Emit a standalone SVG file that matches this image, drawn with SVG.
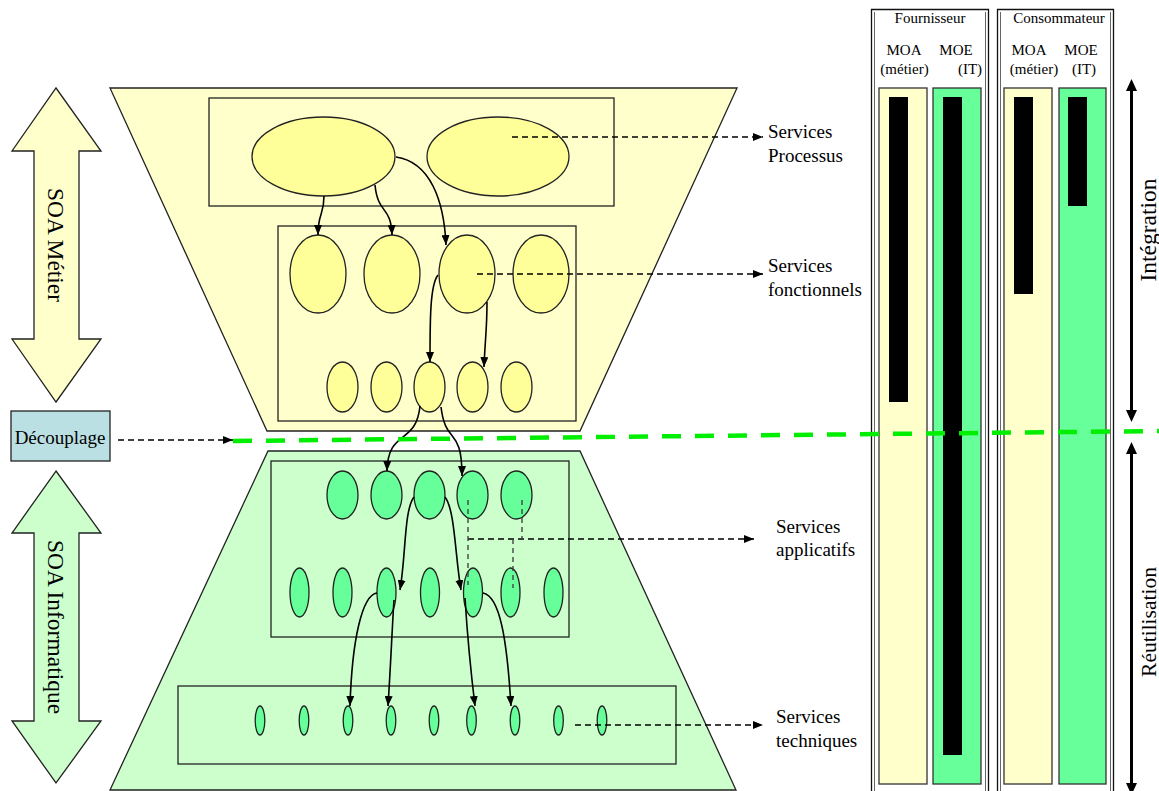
<svg xmlns="http://www.w3.org/2000/svg" width="1159" height="791" viewBox="0 0 1159 791">
<style>
text{font-family:"Liberation Serif","Times New Roman",serif;fill:#000}
.lbl{font-size:19px}
.hdr{font-size:15px}
.big{font-size:23.5px}
.frame{stroke:#222;stroke-width:1.3}
.ey{fill:#FFFF99;stroke:#222;stroke-width:1.3}
.eg{fill:#66FF99;stroke:#222;stroke-width:1.3}
.arr{fill:none;stroke:#000;stroke-width:1.6;marker-end:url(#ah)}
.dash{fill:none;stroke:#000;stroke-width:1.6;stroke-dasharray:6,4}
.dashg{fill:none;stroke:#444;stroke-width:1.4;stroke-dasharray:5,4}
.col{stroke:#333;stroke-width:1.3}
</style>
<defs>
<marker id="ah" viewBox="0 0 10 8" refX="10" refY="4" markerWidth="10" markerHeight="8" markerUnits="userSpaceOnUse" orient="auto"><path d="M0,0 L10,4 L0,8 z" fill="#000"/></marker>
<marker id="ahd" viewBox="0 0 10 8" refX="10" refY="4" markerWidth="10" markerHeight="8" markerUnits="userSpaceOnUse" orient="auto"><path d="M0,0 L10,4 L0,8 z" fill="#000"/></marker>
</defs>

<!-- left double arrows -->
<g id="soa-metier">
<path d="M56,88 L101,151 L79,151 L79,339 L101,339 L56,402 L12,339 L34,339 L34,151 L12,151 Z" fill="#FFFFCC" stroke="#222" stroke-width="1.3"/>
<text class="big" transform="translate(48,245) rotate(90)" text-anchor="middle">SOA Métier</text>
</g>
<g id="soa-informatique">
<path d="M56,471 L101,533 L79,533 L79,721 L101,721 L56,783 L12,721 L34,721 L34,533 L12,533 Z" fill="#CCFFCC" stroke="#222" stroke-width="1.3"/>
<text class="big" transform="translate(48,627) rotate(90)" text-anchor="middle">SOA Informatique</text>
</g>
<g id="decouplage">
<rect x="11" y="411" width="99" height="50" fill="#BBE0E3" stroke="#222" stroke-width="1.3"/>
<text class="lbl" x="60" y="444" text-anchor="middle">Découplage</text>
</g>

<!-- upper trapezoid -->
<g id="metier-zone">
<path d="M110,88 L737,88 L580,431 L267,431 Z" fill="#FFFFCC" stroke="#222" stroke-width="1.3"/>
</g>
<g id="processus">
<rect x="209" y="98" width="405" height="108" fill="#FFFFCC" class="frame"/>
<ellipse class="ey" cx="323.5" cy="156.5" rx="71.5" ry="39.5"/>
<ellipse class="ey" cx="498" cy="156.5" rx="71" ry="39.5"/>
</g>
<g id="fonctionnels">
<rect x="278" y="226" width="298" height="195" fill="#FFFFCC" class="frame"/>
<ellipse class="ey" cx="318" cy="274" rx="28" ry="39"/>
<ellipse class="ey" cx="392" cy="274" rx="28" ry="39"/>
<ellipse class="ey" cx="467" cy="274" rx="28" ry="39"/>
<ellipse class="ey" cx="541" cy="274" rx="28" ry="39"/>
<ellipse class="ey" cx="342.5" cy="387" rx="15.5" ry="25"/>
<ellipse class="ey" cx="386.5" cy="387" rx="15.5" ry="25"/>
<ellipse class="ey" cx="429.5" cy="387" rx="15.5" ry="25"/>
<ellipse class="ey" cx="472.5" cy="387" rx="15.5" ry="25"/>
<ellipse class="ey" cx="516.5" cy="387" rx="15.5" ry="25"/>
</g>

<!-- lower trapezoid -->
<g id="informatique-zone">
<path d="M268,451 L580,451 L736,790 L110,790 Z" fill="#CCFFCC" stroke="#222" stroke-width="1.3"/>
</g>
<g id="applicatifs">
<rect x="271" y="461" width="298" height="176" fill="#CCFFCC" class="frame"/>
<ellipse class="eg" cx="342.5" cy="495" rx="15.5" ry="24"/>
<ellipse class="eg" cx="386.5" cy="495" rx="15.5" ry="24"/>
<ellipse class="eg" cx="429.5" cy="495" rx="15.5" ry="24"/>
<ellipse class="eg" cx="472.5" cy="495" rx="15.5" ry="24"/>
<ellipse class="eg" cx="516.5" cy="495" rx="15.5" ry="24"/>
<ellipse class="eg" cx="299.5" cy="592.5" rx="9.5" ry="24.5"/>
<ellipse class="eg" cx="342.5" cy="592.5" rx="9.5" ry="24.5"/>
<ellipse class="eg" cx="386.5" cy="592.5" rx="9.5" ry="24.5"/>
<ellipse class="eg" cx="430" cy="592.5" rx="9.5" ry="24.5"/>
<ellipse class="eg" cx="473" cy="592.5" rx="9.5" ry="24.5"/>
<ellipse class="eg" cx="510.5" cy="592.5" rx="9.5" ry="24.5"/>
<ellipse class="eg" cx="553.5" cy="592.5" rx="9.5" ry="24.5"/>
</g>
<g id="techniques">
<rect x="178" y="686" width="498" height="78" fill="#CCFFCC" class="frame"/>
<ellipse class="eg" cx="260" cy="720.5" rx="4.8" ry="14.5"/>
<ellipse class="eg" cx="304" cy="720.5" rx="4.8" ry="14.5"/>
<ellipse class="eg" cx="348" cy="720.5" rx="4.8" ry="14.5"/>
<ellipse class="eg" cx="391" cy="720.5" rx="4.8" ry="14.5"/>
<ellipse class="eg" cx="434" cy="720.5" rx="4.8" ry="14.5"/>
<ellipse class="eg" cx="471.5" cy="720.5" rx="4.8" ry="14.5"/>
<ellipse class="eg" cx="515" cy="720.5" rx="4.8" ry="14.5"/>
<ellipse class="eg" cx="558.5" cy="720.5" rx="4.8" ry="14.5"/>
<ellipse class="eg" cx="602" cy="720.5" rx="4.8" ry="14.5"/>
</g>

<!-- labels -->
<g id="label-processus"><text class="lbl" x="768" y="138">Services</text><text class="lbl" x="768" y="162">Processus</text></g>
<g id="label-fonctionnels"><text class="lbl" x="768" y="272">Services</text><text class="lbl" x="768" y="296">fonctionnels</text></g>
<g id="label-applicatifs"><text class="lbl" x="776" y="533">Services</text><text class="lbl" x="776" y="556">applicatifs</text></g>
<g id="label-techniques"><text class="lbl" x="776" y="723">Services</text><text class="lbl" x="776" y="747">techniques</text></g>

<!-- right panel -->
<g id="fournisseur">
<path d="M871.5,791 V9.5 H988.5 V791" fill="none" stroke="#111" stroke-width="1.3"/>
<path d="M874.5,12 V791 M985.5,12 V791" fill="none" stroke="#666" stroke-width="1"/>
<text class="hdr" x="930" y="23" text-anchor="middle">Fournisseur</text>
<text class="hdr" x="904" y="55" text-anchor="middle">MOA</text>
<text class="hdr" x="956" y="55" text-anchor="middle">MOE</text>
<text class="hdr" x="904.5" y="74" text-anchor="middle">(métier)</text>
<text class="hdr" x="970" y="74" text-anchor="middle">(IT)</text>
<rect class="col" x="879" y="88" width="48" height="696" fill="#FFFFCC"/>
<rect class="col" x="933" y="88" width="48" height="696" fill="#66FF99"/>
<rect x="889" y="97" width="19" height="305" fill="#000"/>
<rect x="943" y="97" width="19" height="658" fill="#000"/>
</g>
<g id="consommateur">
<path d="M997.5,791 V9.5 H1113.5 V791" fill="none" stroke="#111" stroke-width="1.3"/>
<path d="M1000.5,12 V791 M1110.5,12 V791" fill="none" stroke="#666" stroke-width="1"/>
<text class="hdr" x="1059" y="23" text-anchor="middle">Consommateur</text>
<text class="hdr" x="1029" y="55" text-anchor="middle">MOA</text>
<text class="hdr" x="1081" y="55" text-anchor="middle">MOE</text>
<text class="hdr" x="1034" y="74" text-anchor="middle">(métier)</text>
<text class="hdr" x="1084" y="74" text-anchor="middle">(IT)</text>
<rect class="col" x="1004" y="88" width="48" height="696" fill="#FFFFCC"/>
<rect class="col" x="1059" y="88" width="47" height="696" fill="#66FF99"/>
<rect x="1014" y="97" width="19" height="197" fill="#000"/>
<rect x="1068" y="97" width="19" height="109" fill="#000"/>
</g>
<g id="integration">
<path d="M1131.5,89 V412" stroke="#000" stroke-width="3"/>
<path d="M1131.5,79 L1137,91 L1126,91 Z M1131.5,422 L1137,410 L1126,410 Z" fill="#000"/>
<text class="big" transform="translate(1156,230) rotate(-90)" text-anchor="middle">Intégration</text>
</g>
<g id="reutilisation">
<path d="M1131.5,452 V791" stroke="#000" stroke-width="3"/>
<path d="M1131.5,442 L1137,454 L1126,454 Z M1131.5,795 L1137,783 L1126,783 Z" fill="#000"/>
<text class="big" style="font-size:21.5px" transform="translate(1156,622) rotate(-90)" text-anchor="middle">Réutilisation</text>
</g>

<!-- connectors -->
<g id="connectors">
<path class="arr" d="M324,196 C324,216 318,212 318,235"/>
<path class="arr" d="M375,185 C378,215 391,205 392,235"/>
<path class="arr" d="M396,157 C430,162 444,200 446,245"/>
<path class="arr" d="M438,275 C430,285 430,320 430,362"/>
<path class="arr" d="M487,302 C487,330 485,340 484,367"/>
<path class="arr" d="M420,406 C416,446 388,428 387,471"/>
<path class="arr" d="M441,407 C446,447 462,425 462,476"/>
<path class="arr" d="M414,497 C404,510 406,555 400,590"/>
<path class="arr" d="M445,497 C455,510 455,555 461,590"/>
<path class="arr" d="M377,593 C362,595 352,640 350,706"/>
<path class="arr" d="M394,600 C392,630 391,660 388,706"/>
<path class="arr" d="M465,598 C467,630 470,665 475,706"/>
<path class="arr" d="M483,593 C500,596 507,640 511,706"/>

<path class="dash" d="M512,137 H763" marker-end="url(#ahd)"/>
<path class="dash" d="M477,274 H763" marker-end="url(#ahd)"/>
<path class="dash" d="M468,539 H754" marker-end="url(#ahd)"/>
<path class="dash" d="M575,725 H763" marker-end="url(#ahd)"/>
<path class="dash" d="M118,440 H233" marker-end="url(#ahd)"/>
<path class="dashg" d="M468,500 V585 M522,500 V539 M513,539 V588"/>
<path d="M233,441 L1159,431" stroke="#00EE00" stroke-width="4.5" stroke-dasharray="19,14" fill="none"/>
</g>
</svg>
